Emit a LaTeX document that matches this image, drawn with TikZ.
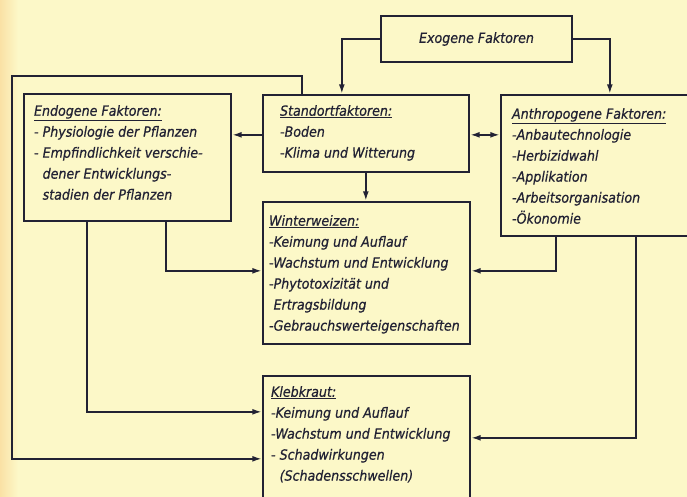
\documentclass[tikz,border=0pt]{standalone}
\usepackage{fontspec}
\setmainfont{DejaVu Sans Condensed}[FakeBold=0.6]
\usepackage{tikz}
\usetikzlibrary{positioning, arrows.meta, calc, fit}
\definecolor{paper}{RGB}{252,248,200}
\definecolor{paperedge}{RGB}{250,225,165}
\definecolor{ink}{RGB}{34,34,52}

\begin{document}
\begin{tikzpicture}[
    x=0.03cm, y=-0.03cm,
    box/.style={rectangle, draw=ink, line width=2pt, inner sep=0pt},
    txt/.style={anchor=north west, inner sep=0pt, align=left, text=ink, font=\fontsize{12}{17.9}\selectfont\itshape},
    link/.style={draw=ink, line width=1.5pt},
    arr/.style={link, -{Latex[length=8pt,width=5pt]}},
    dblarr/.style={link, {Latex[length=8pt,width=5pt]}-{Latex[length=8pt,width=5pt]}}
]
\clip (0,0) rectangle (687,497);
\fill[paper] (0,0) rectangle (687,497);
\shade[left color=paperedge, right color=paper] (0,0) rectangle (18,497);

% boxes
\node[box, fit={(381,16) (572,62)}] (exo) {};
\node[box, fit={(24,94) (231,221)}] (endo) {};
\node[box, fit={(263,95) (469,172)}] (standort) {};
\node[box, fit={(501,95) (692,236)}] (anthro) {};
\node[box, fit={(263,202) (470,344)}] (winter) {};
\node[box, fit={(263,376) (470,505)}] (kleb) {};

% texts
\node[txt, anchor=center] (exotxt) at (exo) {Exogene Faktoren};
\node[txt] (endotxt) at ($(endo.north west)+(11,12)$) {%
    \underline{Endogene Faktoren:}\\
    - Physiologie der Pflanzen\\
    - Empfindlichkeit verschie-\\
    \phantom{- }dener Entwicklungs-\\
    \phantom{- }stadien der Pflanzen};
\node[txt] (standorttxt) at ($(standort.north west)+(18,11)$) {%
    \underline{Standortfaktoren:}\\
    -Boden\\
    -Klima und Witterung};
\node[txt] (anthrotxt) at ($(anthro.north west)+(12,14)$) {%
    \underline{Anthropogene Faktoren:}\\
    -Anbautechnologie\\
    -Herbizidwahl\\
    -Applikation\\
    -Arbeitsorganisation\\
    -Ökonomie};
\node[txt] (wintertxt) at ($(winter.north west)+(7,14)$) {%
    \underline{Winterweizen:}\\
    -Keimung und Auflauf\\
    -Wachstum und Entwicklung\\
    -Phytotoxizität und\\
    \phantom{-}Ertragsbildung\\
    -Gebrauchswerteigenschaften};
\node[txt] (klebtxt) at ($(kleb.north west)+(9,11)$) {%
    \underline{Klebkraut:}\\
    -Keimung und Auflauf\\
    -Wachstum und Entwicklung\\
    - Schadwirkungen\\
    \phantom{- }(Schadensschwellen)};

% connectors
\coordinate (loop) at (12,76);
\draw[arr] (exo.west) -| ($(standort.north west)+(80,0)$);
\draw[arr] (exo.east) -| ($(anthro.north west)+(110,0)$);
\draw[arr] ($(standort.north west)+(40,0)$) |- (loop) |- ($(kleb.north west)+(0,84)$);
\draw[arr] ($(standort.north west)+(0,41)$) coordinate (sl) -- (sl -| endo.east);
\draw[dblarr] ($(standort.north east)+(0,41)$) coordinate (sr) -- (sr -| anthro.west);
\draw[arr] ($(standort.south west)+(104,0)$) coordinate (sb) -- (sb |- winter.north);
\draw[arr] ($(endo.south west)+(143,0)$) |- ($(winter.north west)+(0,70)$);
\draw[arr] ($(endo.south west)+(64,0)$) |- ($(kleb.north west)+(0,37)$);
\draw[arr] ($(anthro.south west)+(56,0)$) |- ($(winter.north east)+(0,70)$);
\draw[arr] ($(anthro.south west)+(136,0)$) |- ($(kleb.north east)+(0,63)$);
\end{tikzpicture}
\end{document}
